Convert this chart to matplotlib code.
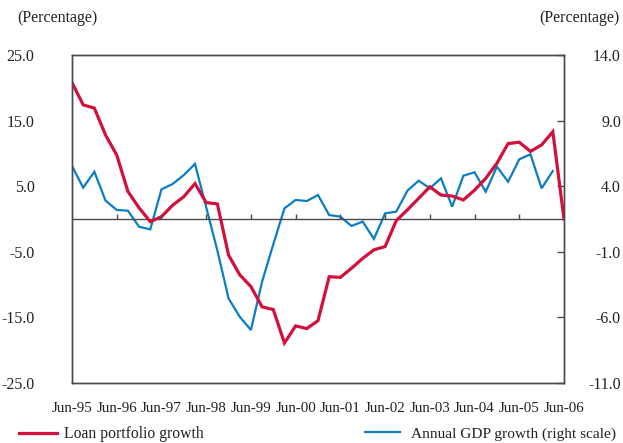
import matplotlib
matplotlib.use("Agg")
import matplotlib.pyplot as plt
from matplotlib.lines import Line2D
import numpy as np

plt.rcParams['font.family'] = ['Liberation Serif', 'DejaVu Serif']

# Quarterly data, Jun-95 .. Jun-06
tick_labels = ["Jun-95", "Jun-96", "Jun-97", "Jun-98", "Jun-99", "Jun-00",
               "Jun-01", "Jun-02", "Jun-03", "Jun-04", "Jun-05", "Jun-06"]

loan_growth = [20.8, 17.4, 16.9, 12.8, 9.75, 4.2, 1.7, -0.4, 0.35, 2.1, 3.4, 5.4,
               2.5, 2.3, -5.5, -8.5, -10.3, -13.4, -13.8, -18.9, -16.3, -16.7, -15.5,
               -8.8, -8.9, -7.5, -6.0, -4.7, -4.2, -0.25, 1.4, 3.15, 4.9, 3.65, 3.5,
               2.9, 4.4, 6.2, 8.5, 11.5, 11.7, 10.3, 11.3, 13.3, 0.0]

gdp_growth = [5.54, 3.89, 5.1, 2.9, 2.19, 2.13, 0.91, 0.71, 3.76, 4.17, 4.85, 5.7,
              2.4, -0.9, -4.55, -5.95, -6.96, -3.28, -0.43, 2.31, 2.95, 2.87, 3.33,
              1.8, 1.68, 0.97, 1.3, -0.02, 1.93, 2.06, 3.66, 4.42, 3.84, 4.6, 2.44,
              4.8, 5.06, 3.58, 5.49, 4.34, 6.05, 6.43, 3.84, 5.16]

left_ticks = [-25.0, -15.0, -5.0, 5.0, 15.0, 25.0]
right_ticks = [-11.0, -6.0, -1.0, 4.0, 9.0, 14.0]

red = "#D2103C"
blue = "#0B7DC4"
frame = "#4a4a4a"
txt = "#222222"

W, H = 623, 443
fig = plt.figure(figsize=(W / 100, H / 100), dpi=100)
ax = fig.add_axes([72 / W, 1 - 383 / H, (564 - 72) / W, (383 - 55) / H])
ax2 = ax.twinx()

x_loan = np.arange(len(loan_growth))
x_gdp = np.arange(len(gdp_growth))

ax2.plot(x_gdp, gdp_growth, color=blue, lw=1.6, solid_joinstyle='miter')
ax.plot(x_loan, loan_growth, color=red, lw=2.3, solid_joinstyle='miter')

ax.set_zorder(ax2.get_zorder() + 1)
ax.patch.set_visible(False)

ax.set_xlim(0, len(loan_growth) - 1)
ax.set_ylim(-25, 25)
ax2.set_ylim(-11, 14)

# zero line and year tick marks on it
ax.axhline(0, color=frame, lw=1.0, zorder=1)
year_pos = np.arange(0, len(loan_growth), 4)
ax.vlines(year_pos[1:-1], 0, 0.8, color=frame, lw=1.0)

ax.set_xticks(year_pos)
ax.set_xticklabels(tick_labels)
ax.tick_params(axis='x', length=0, pad=14, labelsize=10.8, labelcolor=txt)

ax.set_yticks(left_ticks)
ax.set_yticklabels([f"{v:.1f}" for v in left_ticks])
ax.tick_params(axis='y', length=0, pad=27, labelsize=11.5, labelcolor=txt)

ax2.set_yticks(right_ticks)
ax2.set_yticklabels([f"{v:.1f}" for v in right_ticks])
ax2.tick_params(axis='y', direction='in', length=5, width=1.0, color=frame,
                pad=41, labelsize=11.5, labelcolor=txt)
for lab in ax2.get_yticklabels():
    lab.set_horizontalalignment('right')

for a in (ax, ax2):
    for s in a.spines.values():
        s.set_color(frame)
        s.set_linewidth(1.0)

fig.text(17 / W, 1 - 18 / H, "(Percentage)", fontsize=11.5, color=txt,
         ha='left', va='center')
fig.text(620 / W, 1 - 18 / H, "(Percentage)", fontsize=11.5, color=txt,
         ha='right', va='center')

h1 = Line2D([], [], color=red, lw=2.3)
h2 = Line2D([], [], color=blue, lw=1.6)
fig.legend([h1], ["Loan portfolio growth"], loc='center left',
           bbox_to_anchor=(5 / W, 1 - 434 / H), frameon=False, fontsize=11.3,
           handlelength=2.4, handletextpad=0.45, labelcolor=txt)
fig.legend([h2], ["Annual GDP growth (right scale)"], loc='center left',
           bbox_to_anchor=(351 / W, 1 - 434 / H), frameon=False, fontsize=11.1,
           handlelength=2.3, handletextpad=0.7, labelcolor=txt)

fig.savefig("out.png", dpi=100)
